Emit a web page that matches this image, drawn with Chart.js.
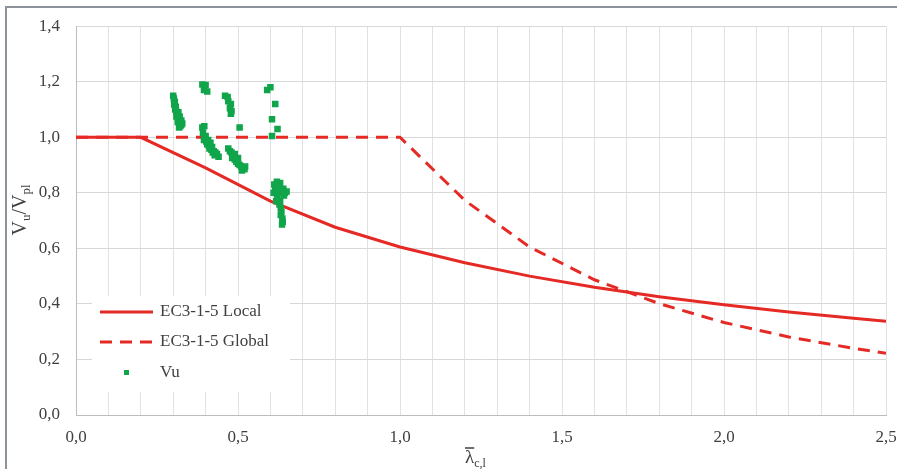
<!DOCTYPE html>
<html>
<head>
<meta charset="utf-8">
<script src="https://cdn.jsdelivr.net/npm/chart.js@4/dist/chart.umd.min.js"></script>
<style>
  body { margin: 0; background: #fff; }
  #wrap { position: relative; width: 897px; height: 469px; overflow: hidden; }
  #frame { position: absolute; left: 5px; top: 6px; width: 920px; height: 500px;
           border-left: 2px solid #8c939a; border-top: 2px solid #8c939a; }
  canvas { position: absolute; left: 0; top: 0; }
</style>
</head>
<body>
<div id="wrap">
  <canvas id="chart" width="897" height="469"></canvas>
  <div id="frame"></div>
</div>
<script>
// curve sample points (slenderness) and the two design curves
const lambdaCurve = [0, 0.2, 0.4, 0.6, 0.8, 1.0, 1.2, 1.4, 1.6, 1.8, 2.0, 2.2, 2.4, 2.5];
const localCurve  = [1.0, 1.0, 0.89, 0.77, 0.676, 0.605, 0.548, 0.50, 0.46, 0.426, 0.397, 0.371, 0.348, 0.338];
const globalCurve = [1.0, 1.0, 1.0, 1.0, 1.0, 1.0, 0.773, 0.605, 0.487, 0.401, 0.333, 0.281, 0.240, 0.222];

// test results Vu
const vuLambda = [
  0.300, 0.302, 0.305, 0.303, 0.308, 0.306, 0.310, 0.312, 0.310, 0.315, 0.318, 0.314, 0.320, 0.322, 0.318, 0.325, 0.325, 0.320, 0.328, 0.316,
  0.390, 0.400, 0.395, 0.405,
  0.390, 0.396, 0.392, 0.398, 0.395, 0.402, 0.405, 0.410, 0.400, 0.412, 0.418, 0.420, 0.425, 0.430, 0.428, 0.435, 0.415, 0.440, 0.408, 0.422,
  0.460, 0.468, 0.470, 0.478, 0.475, 0.480, 0.478,
  0.505,
  0.470, 0.475, 0.480, 0.485, 0.482, 0.490, 0.495, 0.500, 0.505, 0.510, 0.515, 0.520, 0.512, 0.490, 0.500, 0.522,
  0.590, 0.600, 0.615, 0.605, 0.622, 0.605,
  0.612, 0.620, 0.630, 0.615, 0.625, 0.640, 0.645, 0.610, 0.620, 0.635, 0.650, 0.622, 0.630, 0.628, 0.632, 0.634, 0.632, 0.637, 0.638, 0.636, 0.642, 0.618
];
const vuRatio = [
  1.150, 1.140, 1.128, 1.118, 1.110, 1.100, 1.092, 1.082, 1.075, 1.068, 1.060, 1.055, 1.048, 1.040, 1.035, 1.045, 1.060, 1.075, 1.050, 1.090,
  1.190, 1.188, 1.170, 1.165,
  1.035, 1.040, 1.015, 1.000, 0.990, 0.985, 0.975, 0.970, 1.005, 0.960, 0.955, 0.965, 0.950, 0.945, 0.935, 0.940, 0.980, 0.930, 0.990, 0.945,
  1.150, 1.145, 1.130, 1.120, 1.105, 1.095, 1.085,
  1.035,
  0.960, 0.950, 0.945, 0.935, 0.925, 0.920, 0.912, 0.905, 0.900, 0.895, 0.890, 0.885, 0.880, 0.940, 0.925, 0.895,
  1.170, 1.180, 1.120, 1.065, 1.030, 1.005,
  0.830, 0.840, 0.835, 0.815, 0.820, 0.815, 0.800, 0.800, 0.795, 0.800, 0.805, 0.780, 0.770, 0.758, 0.745, 0.732, 0.720, 0.708, 0.696, 0.686, 0.790, 0.770
];

const xTickLabels = ['0,0', '0,5', '1,0', '1,5', '2,0', '2,5'];
const yTickLabels = ['0,0', '0,2', '0,4', '0,6', '0,8', '1,0', '1,2', '1,4'];

const RED = '#e52a26';
const GREEN = '#10a54a';
const TEXT = '#404040';
const SERIF = '"Liberation Serif", "Times New Roman", serif';

function toXY(xs, ys) {
  return xs.map((x, i) => ({ x: x, y: ys[i] }));
}

const extras = {
  id: 'extras',
  afterDraw(chart) {
    const ctx = chart.ctx;
    const area = chart.chartArea;
    ctx.save();

    // legend box inside the plot
    const lx = area.left + 16, ly = area.bottom - 119;
    ctx.fillStyle = '#fff';
    ctx.fillRect(lx, ly, 198, 96);
    ctx.font = '17px ' + SERIF;
    ctx.fillStyle = TEXT;
    ctx.textBaseline = 'middle';
    ctx.textAlign = 'left';

    ctx.strokeStyle = RED;
    ctx.lineWidth = 3;
    ctx.beginPath();
    ctx.moveTo(lx + 8, ly + 16);
    ctx.lineTo(lx + 61, ly + 16);
    ctx.stroke();
    ctx.fillText('EC3-1-5 Local', lx + 68, ly + 16);

    ctx.setLineDash([12, 8]);
    ctx.beginPath();
    ctx.moveTo(lx + 8, ly + 46);
    ctx.lineTo(lx + 61, ly + 46);
    ctx.stroke();
    ctx.setLineDash([]);
    ctx.fillText('EC3-1-5 Global', lx + 68, ly + 46);

    ctx.fillStyle = GREEN;
    ctx.fillRect(lx + 32, ly + 74, 5, 5);
    ctx.fillStyle = TEXT;
    ctx.fillText('Vu', lx + 68, ly + 77);

    // y axis title  Vu/Vpl
    ctx.textBaseline = 'alphabetic';
    ctx.translate(26, 210);
    ctx.rotate(-Math.PI / 2);
    const parts = [['V', 20, 0], ['u', 13, 4], ['/V', 20, 0], ['pl', 13, 4]];
    let total = 0;
    parts.forEach(p => { ctx.font = p[1] + 'px ' + SERIF; total += ctx.measureText(p[0]).width; });
    let px = -total / 2;
    parts.forEach(p => {
      ctx.font = p[1] + 'px ' + SERIF;
      ctx.fillText(p[0], px, p[2]);
      px += ctx.measureText(p[0]).width;
    });
    ctx.setTransform(1, 0, 0, 1, 0, 0);

    // x axis title  lambda-bar c,l
    const tx = (area.left + area.right) / 2 - 16;
    ctx.font = '19px ' + SERIF;
    ctx.fillText('λ', tx, 463);
    const lw = ctx.measureText('λ').width;
    ctx.strokeStyle = TEXT;
    ctx.lineWidth = 1.5;
    ctx.beginPath();
    ctx.moveTo(tx, 448);
    ctx.lineTo(tx + lw, 448);
    ctx.stroke();
    ctx.font = '12px ' + SERIF;
    ctx.fillText('c,l', tx + lw, 467);

    ctx.restore();
  }
};

new Chart(document.getElementById('chart'), {
  type: 'scatter',
  data: {
    datasets: [
      {
        label: 'EC3-1-5 Local',
        data: toXY(lambdaCurve, localCurve),
        showLine: true,
        borderColor: RED,
        borderWidth: 3,
        pointRadius: 0,
        tension: 0,
        order: 1
      },
      {
        label: 'EC3-1-5 Global',
        data: toXY(lambdaCurve, globalCurve),
        showLine: true,
        borderColor: RED,
        borderWidth: 3,
        borderDash: [12, 8],
        pointRadius: 0,
        tension: 0,
        order: 2
      },
      {
        label: 'Vu',
        data: toXY(vuLambda, vuRatio),
        pointStyle: 'rect',
        pointRadius: 4.6,
        backgroundColor: GREEN,
        borderWidth: 0,
        order: 0
      }
    ]
  },
  options: {
    responsive: false,
    animation: false,
    layout: { padding: { left: 0, top: 24, right: 11, bottom: 0 } },
    plugins: { legend: { display: false }, tooltip: { enabled: false } },
    scales: {
      x: {
        type: 'linear',
        min: 0,
        max: 2.5,
        afterFit: s => { s.height = 54; s.paddingLeft = 0; s.paddingRight = 0; },
        grid: { color: '#e2e2e2', drawTicks: false },
        border: { color: '#bcbcbc', width: 1 },
        ticks: {
          stepSize: 0.1,
          autoSkip: false,
          maxRotation: 0,
          padding: 12,
          color: TEXT,
          font: { family: SERIF, size: 17 },
          callback: v => {
            const k = Math.round(v * 2);
            return Math.abs(v * 2 - k) < 1e-6 ? xTickLabels[k] : '';
          }
        }
      },
      y: {
        min: 0,
        max: 1.4,
        afterFit: s => { s.width = 76; },
        grid: { color: '#d8d8d8', drawTicks: false },
        border: { color: '#bcbcbc', width: 1 },
        ticks: {
          stepSize: 0.2,
          padding: 16,
          color: TEXT,
          font: { family: SERIF, size: 17 },
          callback: v => yTickLabels[Math.round(v * 5)]
        }
      }
    }
  },
  plugins: [extras]
});
</script>
</body>
</html>
